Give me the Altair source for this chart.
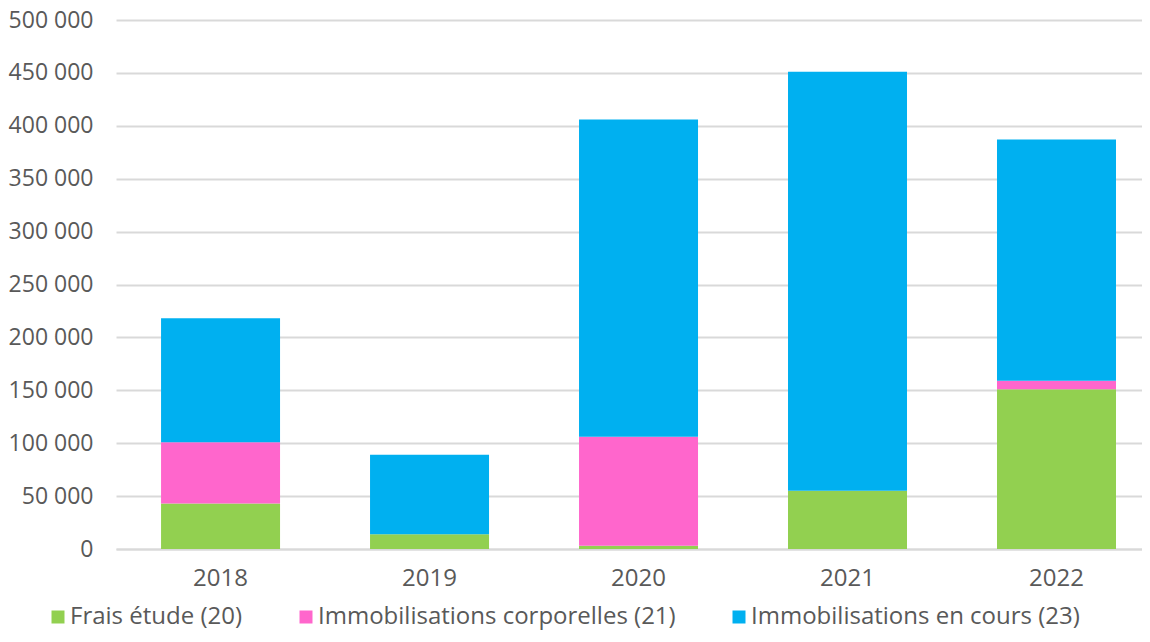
import altair as alt
import pandas as pd

years = ["2018", "2019", "2020", "2021", "2022"]
series = ["Frais étude (20)", "Immobilisations corporelles (21)", "Immobilisations en cours (23)"]
frais = [43000, 14000, 3000, 55000, 151000]
corporelles = [58000, 0, 103000, 0, 8000]
en_cours = [117000, 75000, 300000, 396000, 228000]
colors = ["#92D050", "#FF66CC", "#00B0F0"]

rows = []
for i, y in enumerate(years):
    for j, (s, vals) in enumerate(zip(series, [frais, corporelles, en_cours])):
        rows.append({"annee": y, "serie": s, "valeur": vals[i], "ordre": j})
df = pd.DataFrame(rows)

FONT = "Open Sans"
GREY = "#595959"

chart = alt.Chart(df).mark_bar().encode(
    x=alt.X("annee:N", title=None, sort=years,
            scale=alt.Scale(paddingInner=0.4306, paddingOuter=0.17, align=0.634),
            axis=alt.Axis(labelAngle=0, labelFontSize=24, labelColor=GREY, labelFont=FONT,
                          ticks=False, domain=True, domainColor="#D9D9D9", domainWidth=2,
                          labelPadding=17)),
    y=alt.Y("valeur:Q", title=None, stack="zero",
            scale=alt.Scale(domain=[0, 500000], nice=False),
            axis=alt.Axis(values=list(range(0, 500001, 50000)),
                          labelExpr="replace(format(datum.value, ',d'), ',', ' ')",
                          labelFontSize=23, labelColor=GREY, labelFont=FONT,
                          ticks=False, domain=False, gridColor="#D9D9D9", gridWidth=2,
                          labelPadding=23)),
    color=alt.Color("serie:N", sort=series,
                    scale=alt.Scale(domain=series, range=colors),
                    legend=alt.Legend(title=None, orient="none", direction="horizontal",
                                      legendX=-70, legendY=585, symbolType="square",
                                      symbolSize=169, symbolStrokeWidth=0, labelFontSize=24,
                                      labelFont=FONT, labelColor=GREY, columnPadding=51,
                                      labelOffset=0, labelLimit=600, symbolOpacity=1)),
    order=alt.Order("ordre:Q", sort="ascending"),
).properties(
    width=1026, height=529,
    autosize=alt.AutoSizeParams(type="none"),
    padding={"left": 108, "top": 12, "right": 0, "bottom": 85},
).configure_view(stroke=None)

chart.save("out.html", embed_options={"renderer": "svg", "actions": False})
